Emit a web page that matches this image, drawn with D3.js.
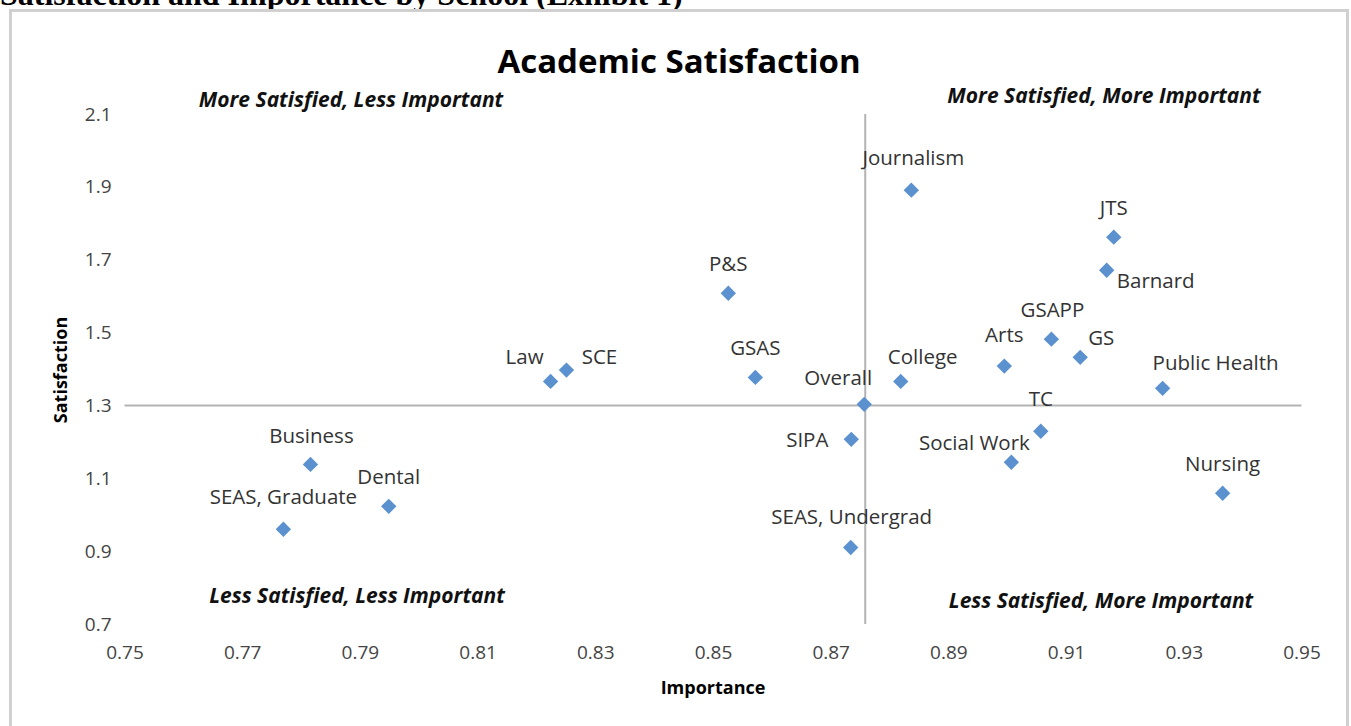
<!DOCTYPE html>
<html>
<head>
<meta charset="utf-8">
<script src="https://cdn.jsdelivr.net/npm/d3@7"></script>
<style>
  body { margin: 0; background: #fff; }
  svg { display: block; }
</style>
</head>
<body>
<div id="chart-area"></div>
<script>
// school names, importance (x) and satisfaction (y)
const schools = ["Journalism", "JTS", "Barnard", "P&S", "GSAPP", "GS", "Arts", "SCE", "Law",
    "GSAS", "College", "Public Health", "Overall", "SIPA", "TC", "Social Work", "Nursing",
    "Business", "Dental", "SEAS, Graduate", "SEAS, Undergrad"];
const importance = [0.8837, 0.9181, 0.9169, 0.8526, 0.9075, 0.9124, 0.8995, 0.8251, 0.8224,
    0.8572, 0.8819, 0.9264, 0.8757, 0.8735, 0.9057, 0.9007, 0.9366,
    0.7816, 0.7949, 0.7770, 0.8734];
const satisfaction = [1.891, 1.762, 1.671, 1.608, 1.482, 1.432, 1.408, 1.397, 1.366,
    1.377, 1.366, 1.347, 1.303, 1.207, 1.229, 1.144, 1.059,
    1.138, 1.023, 0.960, 0.910];

const xTicks = [0.75, 0.77, 0.79, 0.81, 0.83, 0.85, 0.87, 0.89, 0.91, 0.93, 0.95];
const yTicks = [0.7, 0.9, 1.1, 1.3, 1.5, 1.7, 1.9, 2.1];

const quadrants = ["More Satisfied, Less Important", "More Satisfied, More Important",
    "Less Satisfied, Less Important", "Less Satisfied, More Important"];

// label placement (offset of label centre from its marker)
const labelOffset = {
    "Journalism": [2, -32], "JTS": [0, -29], "Barnard": [49, 11], "P&S": [0, -29],
    "GSAPP": [1, -29], "GS": [21, -20], "Arts": [0, -31], "SCE": [33, -13],
    "Law": [-26, -25], "GSAS": [0, -30], "College": [22, -25], "Public Health": [53, -25],
    "Overall": [-26, -27], "SIPA": [-44, 1], "TC": [0, -32], "Social Work": [-37, -19],
    "Nursing": [0, -29], "Business": [1, -29], "Dental": [0, -30],
    "SEAS, Graduate": [0, -32], "SEAS, Undergrad": [1, -31]
};

const W = 1351, H = 726;
const font = "'Open Sans', 'Noto Sans', sans-serif";

const svg = d3.select('#chart-area')
    .append('svg')
    .attr('width', W)
    .attr('height', H);

// cropped page heading above the chart box
svg.append("text")
    .attr("x", 0)
    .attr("y", 5)
    .style("font-family", "'Liberation Serif', 'Times New Roman', serif")
    .style("font-weight", "bold")
    .style("font-size", "32px")
    .attr("fill", "#000")
    .text("Satisfaction and Importance by School (Exhibit 1)");

// chart frame
svg.append("rect")
    .attr("x", 10.5)
    .attr("y", 10.5)
    .attr("width", 1337)
    .attr("height", 740)
    .attr("fill", "#fff")
    .attr("stroke", "#d0d0d0")
    .attr("stroke-width", 3);

const x = d3.scaleLinear().domain([0.75, 0.95]).range([124.5, 1301.5]);
const y = d3.scaleLinear().domain([0.7, 2.1]).range([624, 114]);

// title
svg.append("text")
    .attr("x", 679)
    .attr("y", 73)
    .attr("text-anchor", "middle")
    .style("font-family", font)
    .style("font-weight", "bold")
    .style("font-size", "33px")
    .attr("fill", "#000")
    .text("Academic Satisfaction");

// Y axis (labels only)
const yAxisGroup = svg.append("g")
    .attr("transform", "translate(" + x(0.75) + ",0)")
    .call(d3.axisLeft(y).tickValues(yTicks).tickSize(0).tickPadding(13).tickFormat(d3.format(".1f")));
yAxisGroup.select(".domain").remove();
yAxisGroup.selectAll("text")
    .style("font-family", font)
    .style("font-size", "19px")
    .attr("fill", "#444");

// X axis (labels only)
const xAxisGroup = svg.append("g")
    .attr("transform", "translate(0," + y(0.7) + ")")
    .call(d3.axisBottom(x).tickValues(xTicks).tickSize(0).tickPadding(22).tickFormat(d3.format(".2f")));
xAxisGroup.select(".domain").remove();
xAxisGroup.selectAll("text")
    .style("font-family", font)
    .style("font-size", "19px")
    .attr("fill", "#444");

// axis titles
svg.append("text")
    .attr("transform", "translate(61,370) rotate(-90)")
    .attr("text-anchor", "middle")
    .attr("dy", "0.35em")
    .style("font-family", font)
    .style("font-weight", "bold")
    .style("font-size", "18px")
    .text("Satisfaction");

svg.append("text")
    .attr("x", 713)
    .attr("y", 688)
    .attr("dy", "0.35em")
    .attr("text-anchor", "middle")
    .style("font-family", font)
    .style("font-weight", "bold")
    .style("font-size", "18px")
    .text("Importance");

// quadrant divider lines through "Overall"
const overallIdx = schools.indexOf("Overall");
svg.append("line")
    .attr("x1", x(0.75)).attr("x2", x(0.95))
    .attr("y1", y(1.3)).attr("y2", y(1.3))
    .attr("stroke", "#b3b3b3")
    .attr("stroke-width", 2);
svg.append("line")
    .attr("x1", x(importance[overallIdx]) + 1).attr("x2", x(importance[overallIdx]) + 1)
    .attr("y1", y(2.1)).attr("y2", y(0.7))
    .attr("stroke", "#b3b3b3")
    .attr("stroke-width", 2);

// quadrant captions
const quadPos = [[351, 100], [1104, 96], [357, 596], [1101, 601]];
svg.selectAll(".quad")
    .data(quadrants)
    .enter().append("text")
    .attr("class", "quad")
    .attr("x", (d, i) => quadPos[i][0])
    .attr("y", (d, i) => quadPos[i][1])
    .attr("dy", "0.35em")
    .attr("text-anchor", "middle")
    .style("font-family", font)
    .style("font-weight", "bold")
    .style("font-style", "italic")
    .style("font-size", "21px")
    .attr("fill", "#111")
    .text(d => d);

const points = schools.map((s, i) => ({ name: s, imp: importance[i], sat: satisfaction[i] }));

// diamond markers
svg.selectAll(".pt")
    .data(points)
    .enter().append("path")
    .attr("class", "pt")
    .attr("d", d3.symbol().type(d3.symbolDiamond2).size(150))
    .attr("transform", d => "translate(" + x(d.imp) + "," + y(d.sat) + ")")
    .attr("fill", "#5b91cf");

// data labels
svg.selectAll(".lbl")
    .data(points)
    .enter().append("text")
    .attr("class", "lbl")
    .attr("x", d => x(d.imp) + labelOffset[d.name][0])
    .attr("y", d => y(d.sat) + labelOffset[d.name][1])
    .attr("dy", "0.35em")
    .attr("text-anchor", "middle")
    .style("font-family", font)
    .style("font-size", "20.5px")
    .attr("fill", "#333")
    .text(d => d.name);
</script>
</body>
</html>
